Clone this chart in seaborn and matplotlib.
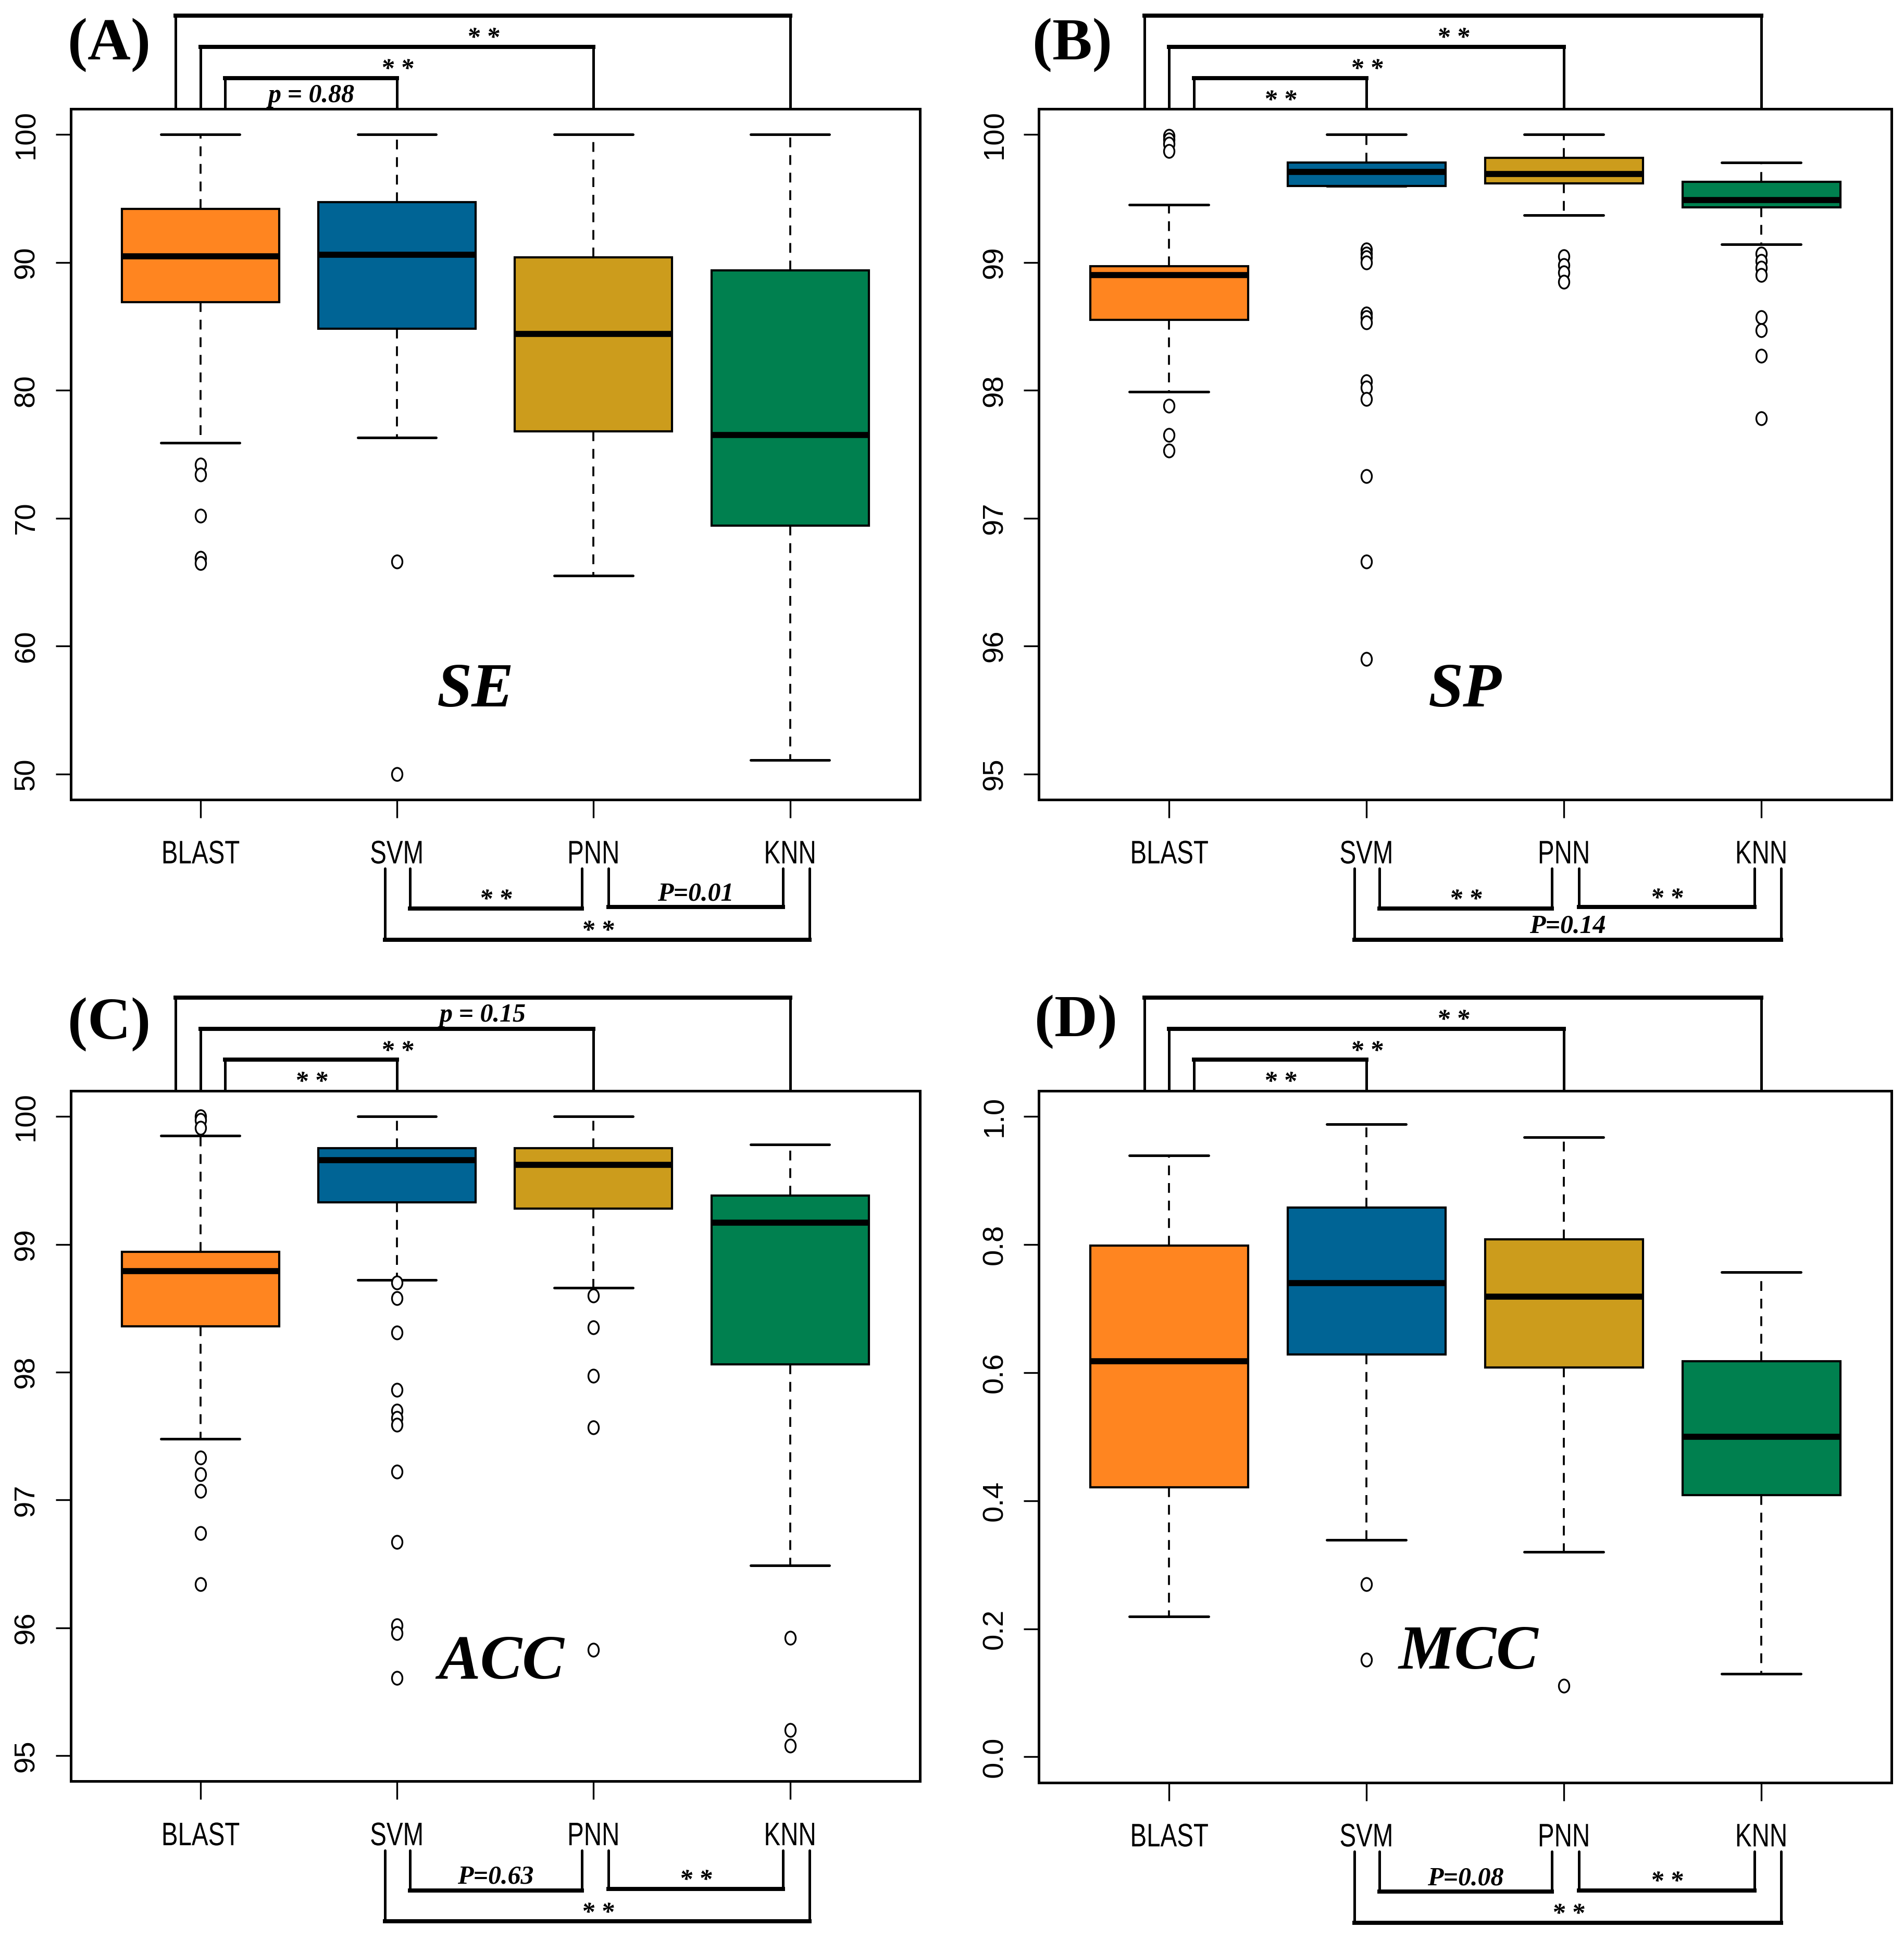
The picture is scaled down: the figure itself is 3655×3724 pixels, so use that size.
import numpy as np
import pandas as pd
import matplotlib
matplotlib.use("Agg")
import matplotlib.pyplot as plt
from matplotlib.path import Path
from matplotlib.transforms import Affine2D
from matplotlib import patheffects
import seaborn as sns

models = ["BLAST", "SVM", "PNN", "KNN"]
colors = ["#FF8520", "#006495", "#CC9C1C", "#00804F"]

# (A) SE : lower whisker, Q1, median, Q3, upper whisker, outliers
se_low = [75.9, 76.3, 65.5, 51.1]
se_q1 = [86.9, 84.8, 76.8, 69.4]
se_med = [90.5, 90.6, 84.4, 76.5]
se_q3 = [94.2, 94.7, 90.4, 89.4]
se_high = [100.0, 100.0, 100.0, 100.0]
se_out = [[74.2, 73.4, 70.2, 66.9, 66.5], [66.6, 50.0], [], []]

# (B) SP
sp_low = [97.99, 99.60, 99.37, 99.14]
sp_q1 = [98.55, 99.60, 99.62, 99.43]
sp_med = [98.90, 99.71, 99.69, 99.49]
sp_q3 = [98.97, 99.78, 99.82, 99.63]
sp_high = [99.45, 100.0, 100.0, 99.78]
sp_out = [[99.99, 99.96, 99.93, 99.87, 97.88, 97.65, 97.53],
          [99.10, 99.07, 99.04, 99.00, 98.60, 98.57, 98.53, 98.07, 98.02, 97.93, 97.33, 96.66, 95.90],
          [99.05, 98.98, 98.92, 98.85],
          [99.07, 99.01, 98.96, 98.90, 98.57, 98.47, 98.27, 97.78]]

# (C) ACC
acc_low = [97.48, 98.72, 98.66, 96.49]
acc_q1 = [98.36, 99.33, 99.28, 98.06]
acc_med = [98.79, 99.66, 99.62, 99.17]
acc_q3 = [98.94, 99.75, 99.75, 99.38]
acc_high = [99.85, 100.0, 100.0, 99.78]
acc_out = [[100.0, 99.97, 99.91, 97.33, 97.20, 97.07, 96.74, 96.34],
           [98.70, 98.58, 98.31, 97.86, 97.70, 97.64, 97.59, 97.22, 96.67, 96.02, 95.96, 95.61],
           [98.60, 98.35, 97.97, 97.57, 95.83],
           [95.92, 95.20, 95.08]]

# (D) MCC
mcc_low = [0.219, 0.339, 0.320, 0.130]
mcc_q1 = [0.421, 0.628, 0.608, 0.409]
mcc_med = [0.618, 0.740, 0.719, 0.500]
mcc_q3 = [0.798, 0.858, 0.808, 0.618]
mcc_high = [0.939, 0.988, 0.968, 0.757]
mcc_out = [[], [0.270, 0.152], [0.111], []]

# significance labels: top = BLAST-SVM, BLAST-PNN, BLAST-KNN ; bottom = SVM-PNN, PNN-KNN, SVM-KNN
a_top = ["p = 0.88", "* *", "* *"]
a_bot = ["* *", "P=0.01", "* *"]
b_top = ["* *", "* *", "* *"]
b_bot = ["* *", "* *", "P=0.14"]
c_top = ["* *", "* *", "p = 0.15"]
c_bot = ["P=0.63", "* *", "* *"]
d_top = ["* *", "* *", "* *"]
d_bot = ["P=0.08", "* *", "* *"]

se_ticks = [50, 60, 70, 80, 90, 100]
sp_ticks = [95, 96, 97, 98, 99, 100]
mcc_ticks = [0.0, 0.2, 0.4, 0.6, 0.8, 1.0]
mcc_ticklabels = ["0.0", "0.2", "0.4", "0.6", "0.8", "1.0"]

sns.set_style("ticks")
plt.rcParams["font.family"] = ["Liberation Sans", "DejaVu Sans"]
plt.rcParams["font.serif"] = ["Liberation Serif", "Times New Roman", "DejaVu Serif"]
for k in ["text.color", "xtick.color", "ytick.color", "axes.labelcolor", "axes.edgecolor"]:
    plt.rcParams[k] = "black"

serif = ["Liberation Serif", "DejaVu Serif"]


class Squeeze(patheffects.AbstractPathEffect):
    # narrow the glyphs along the text direction (the R output looks like Arial Narrow)
    def __init__(self, sx):
        super().__init__()
        self.sx = sx

    def draw_path(self, renderer, gc, tpath, affine, rgbFace=None):
        ext = tpath.get_extents()
        cx = (ext.x0 + ext.x1) / 2
        tr = Affine2D().translate(-cx, 0).scale(self.sx, 1).translate(cx, 0) + affine
        renderer.draw_path(gc, tpath, tr, rgbFace)


narrow = [Squeeze(0.76)]

# slightly tall open circle like the squeezed R markers
ell = Path.unit_circle().transformed(Affine2D().scale(0.8, 1.0))


def box_frame(low, q1, med, q3, high):
    rows = []
    for m, l, a, b, c, h in zip(models, low, q1, med, q3, high):
        for v in (l, a, b, c, h):
            rows.append({"model": m, "value": v})
    return pd.DataFrame(rows)


def out_frame(out):
    rows = []
    for m, vals in zip(models, out):
        for v in vals:
            rows.append({"model": m, "value": v})
    return pd.DataFrame(rows, columns=["model", "value"])


def draw_label(ax, x, y, text, top):
    star = text.startswith("*")
    if top:
        yy = y - (0.043 if star else 0.035)
    else:
        yy = y + (0.002 if star else 0.010)
    ax.text(x, yy, text, transform=ax.get_xaxis_transform(), ha="center", va="baseline",
            fontsize=12, fontweight="bold", fontstyle="italic", family="serif", clip_on=False)


def top_bracket(ax, x0, x1, y, text):
    tr = ax.get_xaxis_transform()
    for x in (x0, x1):
        ax.plot([x, x], [1.0, y], color="black", lw=1.2, transform=tr, clip_on=False)
    ax.plot([x0, x1], [y, y], color="black", lw=1.9, transform=tr, clip_on=False,
            solid_capstyle="projecting")
    draw_label(ax, (x0 + x1) / 2, y, text, True)


def bottom_bracket(ax, x0, x1, y, text):
    tr = ax.get_xaxis_transform()
    for x in (x0, x1):
        ax.plot([x, x], [-0.10, y], color="black", lw=1.2, transform=tr, clip_on=False)
    ax.plot([x0, x1], [y, y], color="black", lw=1.9, transform=tr, clip_on=False,
            solid_capstyle="projecting")
    draw_label(ax, (x0 + x1) / 2, y, text, False)


def panel(ax, low, q1, med, q3, high, out, ylim, ticks, ticklabels, name, nx, ny, top, bot):
    df = box_frame(low, q1, med, q3, high)
    sns.boxplot(data=df, x="model", y="value", hue="model", order=models, hue_order=models,
                palette=colors, saturation=1, legend=False, width=0.8, whis=(0, 100),
                showfliers=False, linecolor="black", linewidth=1.0,
                medianprops={"linewidth": 2.8, "color": "black"},
                whiskerprops={"linestyle": (0, (5, 4)), "linewidth": 0.9},
                capprops={"linewidth": 1.2}, ax=ax)
    od = out_frame(out)
    sns.stripplot(data=od, x="model", y="value", order=models, jitter=False, marker=ell,
                  size=6, color="white", edgecolor="black", linewidth=0.8, ax=ax, zorder=3)
    ax.set_xlim(-0.66, 3.66)
    ax.set_ylim(*ylim)
    ax.set_xlabel("")
    ax.set_ylabel("")
    ax.set_xticks(range(4))
    ax.set_xticklabels(models, fontsize=15)
    for lab in ax.get_xticklabels():
        lab.set_path_effects(narrow)
    ax.set_yticks(ticks)
    ax.set_yticklabels(ticklabels, fontsize=13.5, rotation=90, va="center")
    ax.tick_params(axis="x", length=8.4, width=0.8, pad=10, color="black")
    ax.tick_params(axis="y", length=7, width=0.8, pad=7, color="black")
    for s in ax.spines.values():
        s.set_linewidth(1.2)
        s.set_color("black")
        s.set_visible(True)
    ax.text(nx, ny, name, transform=ax.transAxes, ha="center", va="baseline",
            fontsize=29, fontweight="bold", fontstyle="italic", family="serif")

    # top brackets: BLAST vs SVM / PNN / KNN
    top_bracket(ax, 0.126, 1, 1.045, top[0])
    top_bracket(ax, 0.0, 2, 1.090, top[1])
    top_bracket(ax, -0.126, 3, 1.135, top[2])
    # bottom brackets
    bottom_bracket(ax, 1.065, 1.94, -0.158, bot[0])
    bottom_bracket(ax, 2.075, 2.965, -0.156, bot[1])
    bottom_bracket(ax, 0.94, 3.10, -0.203, bot[2])


fig = plt.figure(figsize=(3655 / 300, 3724 / 300), dpi=300)
axA = fig.add_axes([0.0371, 0.5879, 0.446, 0.3559])
axB = fig.add_axes([0.5456, 0.5879, 0.4479, 0.3559])
axC = fig.add_axes([0.0371, 0.0818, 0.446, 0.3559])
axD = fig.add_axes([0.5456, 0.0812, 0.4479, 0.3565])

panel(axA, se_low, se_q1, se_med, se_q3, se_high, se_out, (48, 102), se_ticks,
      [str(t) for t in se_ticks], "SE", 0.477, 0.135, a_top, a_bot)
panel(axB, sp_low, sp_q1, sp_med, sp_q3, sp_high, sp_out, (94.8, 100.2), sp_ticks,
      [str(t) for t in sp_ticks], "SP", 0.50, 0.135, b_top, b_bot)
panel(axC, acc_low, acc_q1, acc_med, acc_q3, acc_high, acc_out, (94.8, 100.2), sp_ticks,
      [str(t) for t in sp_ticks], "ACC", 0.507, 0.149, c_top, c_bot)
panel(axD, mcc_low, mcc_q1, mcc_med, mcc_q3, mcc_high, mcc_out, (-0.04, 1.04), mcc_ticks,
      mcc_ticklabels, "MCC", 0.504, 0.165, d_top, d_bot)

for lab, x, y in [("(A)", 88, 36), ("(B)", 865, 36), ("(C)", 88, 826), ("(D)", 868, 824)]:
    fig.text(x / 1536, 1 - y / 1565, lab, ha="center", va="center", fontsize=27.5,
             fontweight="bold", family="serif")

fig.savefig("out.png", dpi=300, facecolor="white")
